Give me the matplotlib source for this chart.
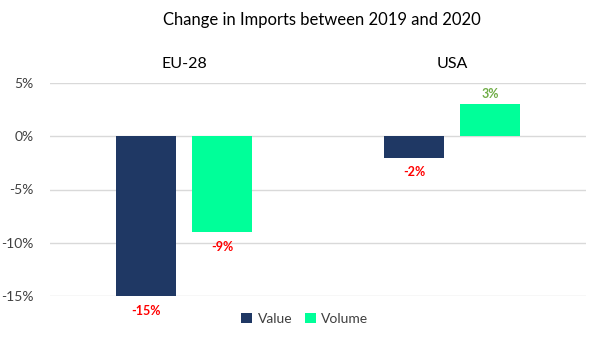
import matplotlib.pyplot as plt
import numpy as np

plt.rcParams['font.family'] = ['Lato', 'DejaVu Sans']

regions = ['EU-28', 'USA']
series = ['Value', 'Volume']
value_change = [-15, -2]
volume_change = [-9, 3]
colors = ['#1F3864', '#00FF99']

fig = plt.figure(figsize=(6.02, 3.4), dpi=100)
ax = fig.add_axes([50 / 602, 1 - 296 / 340, 536 / 602, 213 / 340])

x = np.arange(len(regions))
width = 0.224
offset = 0.142

for i, (vals, name) in enumerate(zip([value_change, volume_change], series)):
    pos = x + (offset if i else -offset)
    ax.bar(pos, vals, width, color=colors[i], label=name, zorder=2)
    for p, v in zip(pos, vals):
        if v < 0:
            ax.text(p, v - 0.8, f'{v}%', ha='center', va='top', color='#FF0000',
                    fontsize=9, fontweight='bold')
        else:
            ax.text(p, v + 0.4, f'{v}%', ha='center', va='bottom', color='#70AD47',
                    fontsize=9, fontweight='bold')

ax.set_xlim(-0.5, 1.5)
ax.set_ylim(-15, 5)
ax.set_yticks([-15, -10, -5, 0, 5])
ax.set_yticklabels([f'{t}%' for t in [-15, -10, -5, 0, 5]])
ax.tick_params(axis='y', length=0, labelsize=10, labelcolor='#404040', pad=12)
ax.set_xticks([])
ax.grid(axis='y', color='#D9D9D9', linewidth=1, zorder=0)
for s in ax.spines.values():
    s.set_visible(False)

# region names sit above each group
for xi, r in zip(x, regions):
    ax.text(xi, 1.09, r, transform=ax.get_xaxis_transform(), ha='center', va='center',
            fontsize=11.5, color='#000000')

fig.text(322 / 602, 1 - 20 / 340, 'Change in Imports between 2019 and 2020', ha='center', va='center',
         fontsize=12, color='#000000')

ax.legend(loc='upper center', bbox_to_anchor=(0.475, -0.02), ncol=2, frameon=False,
          fontsize=10, handlelength=0.8, handleheight=0.8, handletextpad=0.4,
          columnspacing=0.9, labelcolor='#404040')

fig.savefig('out.png', dpi=100)
